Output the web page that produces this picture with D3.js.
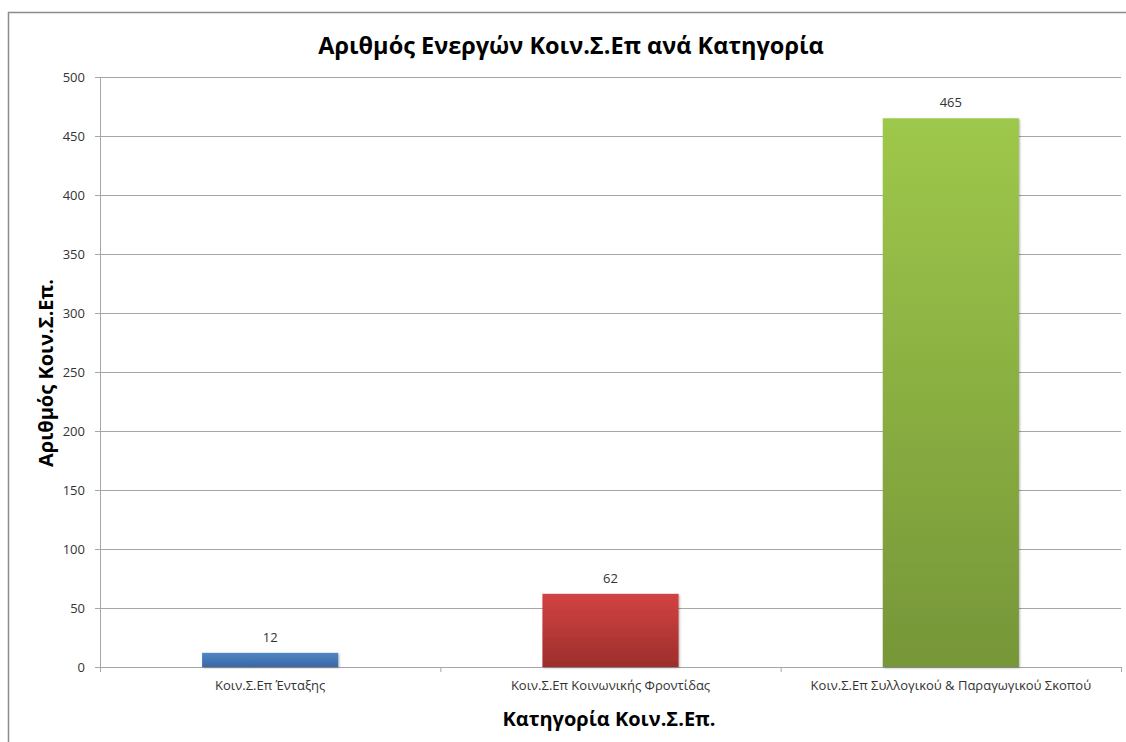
<!DOCTYPE html>
<html>
  <head>
    <meta charset="utf-8">
    <title></title>
    <style>
      body {
        margin: 0;
        background: #fff;
        font-family: "Open Sans", sans-serif;
      }
      svg {
        display: block;
      }
      .axis .domain {
        stroke: #a6a6a6;
      }
      .axis line {
        stroke: #a6a6a6;
      }
      .axis text {
        fill: #333;
        font-family: "Open Sans", sans-serif;
        font-size: 13px;
      }
      .grid line {
        stroke: #a6a6a6;
      }
      .grid .domain {
        stroke: none;
      }
    </style>
  </head>
  <body>
    <div id="chart"></div>
    <script src="https://cdn.jsdelivr.net/npm/d3@7"></script>
    <script>

      let categories = [
        "Κοιν.Σ.Επ Ένταξης",
        "Κοιν.Σ.Επ Κοινωνικής Φροντίδας",
        "Κοιν.Σ.Επ Συλλογικού & Παραγωγικού Σκοπού"
      ];
      let counts = [12, 62, 465];
      let yTicks = [0, 50, 100, 150, 200, 250, 300, 350, 400, 450, 500];
      let barColors = [
        ["#4f86c6", "#3a67a6"],
        ["#d24342", "#9c2e2b"],
        ["#9ec84b", "#769638"]
      ];

      let elWidth = 1126;
      let elHeight = 742;

      let svg = d3.select('#chart').append('svg')
        .attr('width', elWidth)
        .attr('height', elHeight);

      // outer chart frame (only top and left edges show)
      svg.append("path")
        .attr("d", "M8.5," + elHeight + "V12.5H" + elWidth)
        .attr("fill", "none")
        .attr("stroke", "#8c8c8c")
        .attr("stroke-width", 1.5);

      let margin = {top: 77, right: 5, bottom: 75, left: 100};
      let width = 1121 - margin.left;
      let height = 667 - margin.top;

      let defs = svg.append("defs");
      barColors.forEach((c, i) => {
        let grad = defs.append("linearGradient")
          .attr("id", "grad" + i)
          .attr("x1", 0).attr("y1", 0)
          .attr("x2", 0).attr("y2", 1);
        grad.append("stop").attr("offset", "0%").attr("stop-color", c[0]);
        grad.append("stop").attr("offset", "100%").attr("stop-color", c[1]);
      });
      let shadow = defs.append("filter").attr("id", "shadow")
        .attr("x", "-10%").attr("y", "-10%").attr("width", "120%").attr("height", "120%");
      shadow.append("feDropShadow")
        .attr("dx", 1).attr("dy", 1).attr("stdDeviation", 1.2)
        .attr("flood-color", "#000").attr("flood-opacity", 0.3);

      let g = svg.append("g").attr("transform", "translate(" + margin.left + "," + margin.top + ")");

      let x = d3.scaleBand()
        .domain(categories)
        .range([0, width]);

      let y = d3.scaleLinear()
        .domain([0, 500])
        .range([height, 0]);

      g.append("g")
        .attr('class', 'grid')
        .call(d3.axisLeft(y).tickValues(yTicks).tickSize(-width).tickFormat(""));

      g.append("g")
        .attr('class', 'axis axis-left')
        .call(d3.axisLeft(y).tickValues(yTicks).tickSize(5).tickPadding(10).tickSizeOuter(0))
        .call(ax => ax.select(".domain").attr("d", "M0.5," + (height + 5) + "V0.5"));

      let xAxis = g.append("g")
        .attr('class', 'axis axis-bottom')
        .attr("transform", "translate(0," + height + ")")
        .call(d3.axisBottom(x).tickSize(0).tickPadding(14).tickSizeOuter(0));

      // category boundary ticks
      xAxis.selectAll(".boundary")
        .data(d3.range(categories.length + 1))
        .join("line")
        .attr("class", "boundary")
        .attr("x1", i => i * x.step() + 0.5)
        .attr("x2", i => i * x.step() + 0.5)
        .attr("y1", 0)
        .attr("y2", 5);

      let barW = x.bandwidth() * 0.4;

      g.selectAll(".bar")
        .data(counts)
        .join("rect")
        .attr("class", "bar")
        .attr("x", (d, i) => x(categories[i]) + (x.bandwidth() - barW) / 2)
        .attr("y", d => y(d))
        .attr("width", barW)
        .attr("height", d => y(0) - y(d))
        .attr("fill", (d, i) => "url(#grad" + i + ")")
        .attr("filter", "url(#shadow)");

      g.selectAll(".value")
        .data(counts)
        .join("text")
        .attr("class", "value")
        .attr("x", (d, i) => x(categories[i]) + x.bandwidth() / 2)
        .attr("y", d => y(d) - 11)
        .attr("text-anchor", "middle")
        .attr("fill", "#333")
        .attr("font-size", "13px")
        .text(d => d);

      svg.append("text")
        .attr("x", 571)
        .attr("y", 54)
        .attr("text-anchor", "middle")
        .attr("font-weight", "bold")
        .attr("font-size", "23.5px")
        .attr("fill", "#000")
        .text("Αριθμός Ενεργών Κοιν.Σ.Επ ανά Κατηγορία");

      svg.append("text")
        .attr("transform", "translate(53,373) rotate(-90)")
        .attr("text-anchor", "middle")
        .attr("font-weight", "bold")
        .attr("font-size", "20px")
        .attr("fill", "#000")
        .text("Αριθμός Κοιν.Σ.Επ.");

      svg.append("text")
        .attr("x", 609)
        .attr("y", 726)
        .attr("text-anchor", "middle")
        .attr("font-weight", "bold")
        .attr("font-size", "20px")
        .attr("fill", "#000")
        .text("Κατηγορία Κοιν.Σ.Επ.");

    </script>
  </body>
</html>
